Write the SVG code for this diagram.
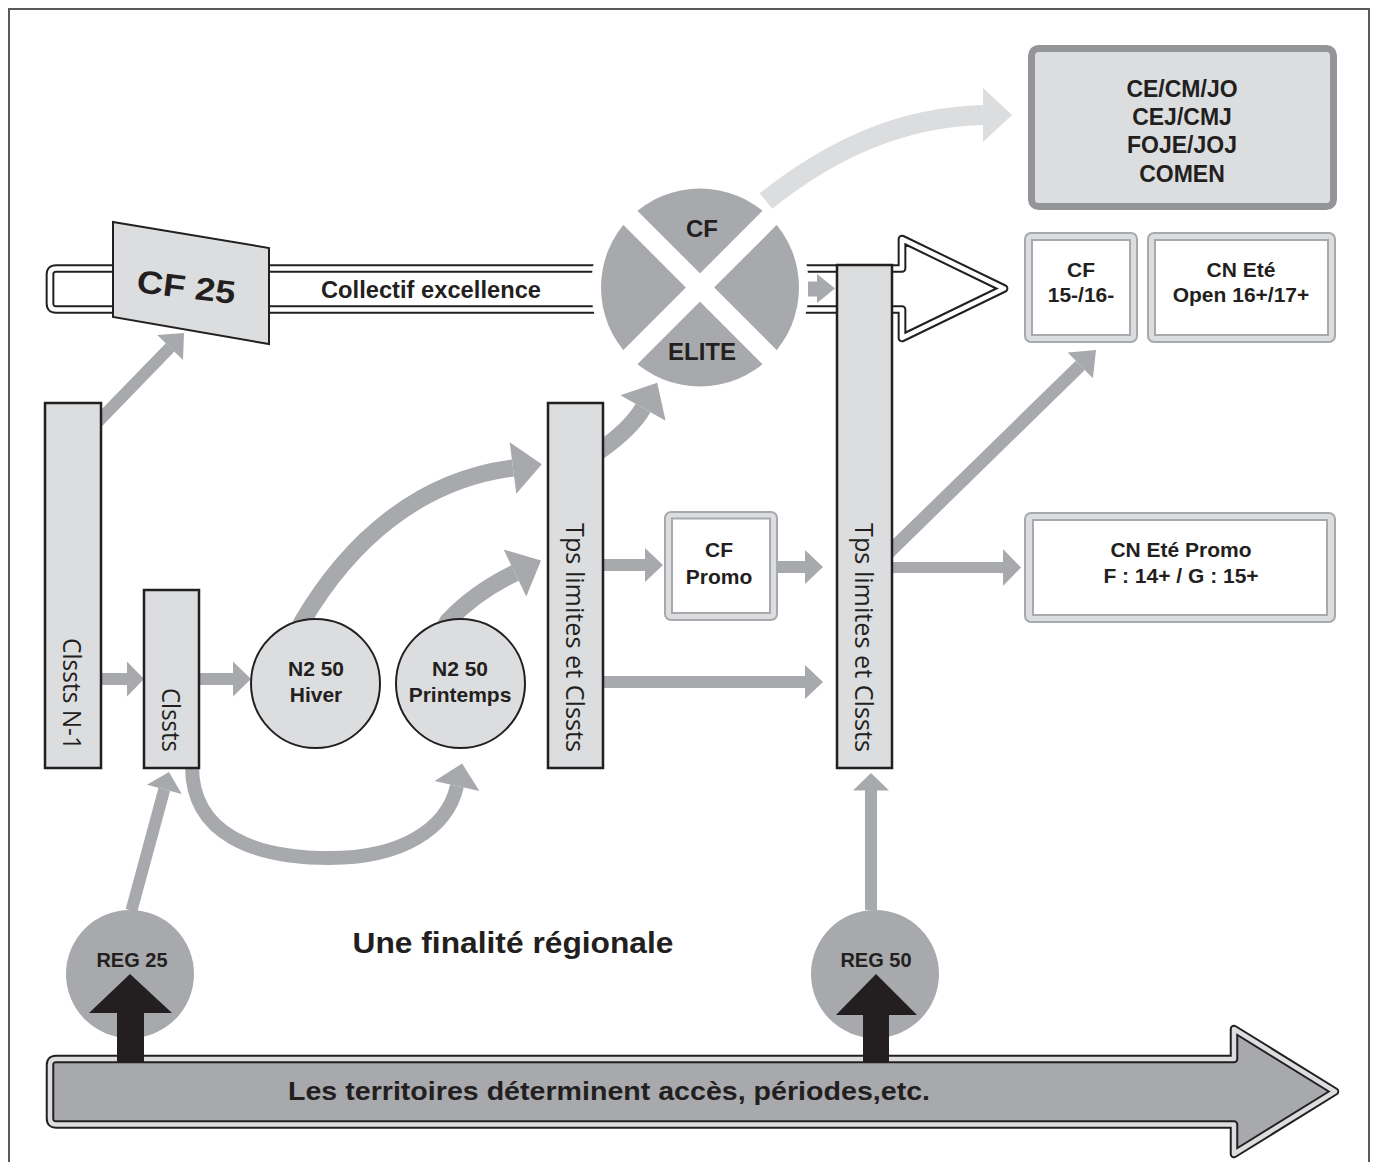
<svg xmlns="http://www.w3.org/2000/svg" width="1375" height="1162" viewBox="0 0 1375 1162">
<style>
.gray{fill:#a7a9ac}
.gs{stroke:#a7a9ac;fill:none}
.blk{fill:#231f20}
.col{fill:#dcdddf;stroke:#231f20;stroke-width:2.5}
.nd{fill:#dcdddf;stroke:#231f20;stroke-width:2}
.ob{fill:#dcdddf;stroke:#a7a9ac;stroke-width:2}
.ib{fill:#fff;stroke:#a7a9ac;stroke-width:2}
.lbl{font-family:"Liberation Sans",Arial,sans-serif;font-weight:bold;fill:#231f20;text-anchor:middle}
.vt{font-family:"Open Sans","Noto Sans",sans-serif;font-size:26px;fill:#231f20;text-anchor:end}
</style>
<rect width="1375" height="1162" fill="#fff"/>
<path d="M9,1162 V9 H1369 V1162" fill="none" stroke="#58595b" stroke-width="2"/>

<g id="territoires">
<path d="M56,1059 H1234 V1029 L1335,1091.5 L1234,1154 V1124.5 H56 Q50,1124.5 50,1118.5 V1065 Q50,1059 56,1059 Z" fill="#a7a9ac" stroke="#231f20" stroke-width="8.5" stroke-linejoin="round"/>
<path d="M56,1059 H1234 V1029 L1335,1091.5 L1234,1154 V1124.5 H56 Q50,1124.5 50,1118.5 V1065 Q50,1059 56,1059 Z" fill="none" stroke="#dcdddf" stroke-width="4.5" stroke-linejoin="round"/>
<text class="lbl" x="609" y="1100" font-size="26" textLength="642" lengthAdjust="spacingAndGlyphs">Les territoires déterminent accès, périodes,etc.</text>
</g>

<g id="reg25">
<circle cx="130" cy="974" r="64" fill="#a7a9ac"/>
<text class="lbl" x="132" y="967" font-size="20">REG 25</text>
</g>
<g id="reg50">
<circle cx="875" cy="974" r="64" fill="#a7a9ac"/>
<text class="lbl" x="876" y="967" font-size="20">REG 50</text>
</g>

<g id="collectif">
<path d="M56,268.5 H902 V239 L1004,288.5 L902,338 V309.5 H56 Q50,309.5 50,303.5 V274.5 Q50,268.5 56,268.5 Z" fill="#fff" stroke="#231f20" stroke-width="8.7" stroke-linejoin="round"/>
<path d="M56,268.5 H902 V239 L1004,288.5 L902,338 V309.5 H56 Q50,309.5 50,303.5 V274.5 Q50,268.5 56,268.5 Z" fill="none" stroke="#fff" stroke-width="4.7" stroke-linejoin="round"/>
<circle cx="700" cy="287.5" r="109" fill="#fff"/>
<text class="lbl" x="431" y="297.5" font-size="23" textLength="220" lengthAdjust="spacingAndGlyphs">Collectif excellence</text>
</g>

<g id="connectors">
<path d="M766,201 C830,150 900,117 983,115" stroke="#dcdddf" stroke-width="20" fill="none"/>
<polygon points="983,88 1012,115 983,142" fill="#dcdddf"/>
<path class="gs" stroke-width="12" d="M88,432 L170.1,347.4"/>
<polygon class="gray" points="184,333 183,359.9 157.2,334.9"/>
<rect class="gray" x="99" y="673" width="29" height="12"/>
<polygon class="gray" points="127,661.5 144,679 127,696.5"/>
<rect class="gray" x="197" y="673" width="37" height="12"/>
<polygon class="gray" points="233,661.5 251,679 233,696.5"/>
<path class="gs" stroke-width="17" d="M298,630 L302,622 C350,540 420,480 513,468"/>
<polygon class="gray" points="541.8,464.3 516.3,493.8 509.7,442.2"/>
<path class="gs" stroke-width="17" d="M444,628 L448,621 C468,600 490,585 515,573"/>
<polygon class="gray" points="541,560.5 526.3,596.4 503.7,549.6"/>
<path class="gs" stroke-width="14" d="M192,760 L192,766 C192,835 255,858 330,858 C400,858 447,830 457,786"/>
<polygon class="gray" points="462.1,763.6 479.4,791.1 434.6,780.9"/>
<path class="gs" stroke-width="12" d="M131.5,910.5 L164.3,789.4"/>
<polygon class="gray" points="169,772 181.7,794.1 146.9,784.7"/>
<path class="gs" stroke-width="17" d="M590,458 L598,452 C618,438 634,424 643,408"/>
<polygon class="gray" points="657.2,382.8 665.6,420.7 620.4,395.3"/>
<rect class="gray" x="600" y="559" width="46" height="12"/>
<polygon class="gray" points="645,548 663,565 645,582"/>
<rect class="gray" x="775" y="561" width="31" height="12"/>
<polygon class="gray" points="805,550 823,567 805,584"/>
<rect class="gray" x="600" y="676" width="206" height="12"/>
<polygon class="gray" points="805,665 823,682 805,699"/>
<rect class="gray" x="865" y="789" width="12" height="121"/>
<polygon class="gray" points="853,790.5 871,773 889,790.5"/>
<path class="gs" stroke-width="13" d="M880,561 L1080.3,365.4"/>
<polygon class="gray" points="1096,350 1092.9,378.3 1067.7,352.5"/>
<rect class="gray" x="890" y="562" width="114" height="11"/>
<polygon class="gray" points="1003,549 1021,567.5 1003,586"/>
<rect class="gray" x="808" y="281.5" width="10" height="15"/>
<polygon class="gray" points="817,274 835,288.5 817,303"/>
<polygon class="blk" points="89,1013 130,974 172,1013 144,1013 144,1063 117,1063 117,1013"/>
<polygon class="blk" points="836,1015 876,974 917,1015 889,1015 889,1063 863,1063 863,1015"/>
</g>

<g id="clssts-n1">
<rect class="col" x="45" y="403" width="56" height="365"/>
<text class="vt" transform="translate(63,750) rotate(90)" textLength="112" lengthAdjust="spacingAndGlyphs">Clssts N-1</text>
</g>
<g id="clssts">
<rect class="col" x="144" y="590" width="55" height="178"/>
<text class="vt" transform="translate(162,752) rotate(90)" textLength="64" lengthAdjust="spacingAndGlyphs">Clssts</text>
</g>
<g id="tps1">
<rect class="col" x="548" y="403" width="55" height="365"/>
<text class="vt" transform="translate(566,752) rotate(90)" textLength="229" lengthAdjust="spacingAndGlyphs">Tps limites et Clssts</text>
</g>
<g id="tps2">
<rect class="col" x="837" y="265" width="55" height="503"/>
<text class="vt" transform="translate(855,752) rotate(90)" textLength="229" lengthAdjust="spacingAndGlyphs">Tps limites et Clssts</text>
</g>

<g id="cf25">
<polygon class="nd" points="113,222 269,248 269,344 113,317"/>
<text class="lbl" transform="translate(185,298) rotate(7)" font-size="32" textLength="99" lengthAdjust="spacingAndGlyphs">CF 25</text>
</g>

<g id="n2-hiver">
<circle class="nd" cx="315.5" cy="683.5" r="64.5"/>
<text class="lbl" x="316" y="676" font-size="21">N2 50</text>
<text class="lbl" x="316" y="702" font-size="21">Hiver</text>
</g>
<g id="n2-printemps">
<circle class="nd" cx="460.5" cy="683.5" r="64.5"/>
<text class="lbl" x="460" y="676" font-size="21">N2 50</text>
<text class="lbl" x="460" y="702" font-size="21">Printemps</text>
</g>

<g id="cf-elite">
<circle cx="700" cy="287.5" r="99" fill="#a7a9ac"/>
<path d="M626,213.5 L774,361.5 M774,213.5 L626,361.5" stroke="#fff" stroke-width="20"/>
<text class="lbl" x="702" y="237" font-size="24">CF</text>
<text class="lbl" x="702" y="360" font-size="24">ELITE</text>
</g>

<g id="cf-promo">
<rect class="ob" x="665" y="512" width="112" height="108" rx="6"/>
<rect class="ib" x="672" y="518.5" width="98" height="94.5"/>
<text class="lbl" x="719" y="557" font-size="21">CF</text>
<text class="lbl" x="719" y="584" font-size="21">Promo</text>
</g>

<g id="international">
<rect x="1031.5" y="48.5" width="302" height="158" rx="7" fill="#dcdddf" stroke="#939598" stroke-width="7"/>
<text class="lbl" x="1182" y="97" font-size="23">CE/CM/JO</text>
<text class="lbl" x="1182" y="125" font-size="23">CEJ/CMJ</text>
<text class="lbl" x="1182" y="153" font-size="23">FOJE/JOJ</text>
<text class="lbl" x="1182" y="182" font-size="23">COMEN</text>
</g>

<g id="cf-15-16">
<rect class="ob" x="1025" y="233" width="112" height="109" rx="6"/>
<rect class="ib" x="1032" y="240" width="98" height="95"/>
<text class="lbl" x="1081" y="277" font-size="21">CF</text>
<text class="lbl" x="1081" y="302" font-size="21">15-/16-</text>
</g>

<g id="cn-ete-open">
<rect class="ob" x="1148" y="233" width="187" height="109" rx="6"/>
<rect class="ib" x="1155" y="240" width="173" height="95"/>
<text class="lbl" x="1241" y="277" font-size="21">CN Eté</text>
<text class="lbl" x="1241" y="302" font-size="21">Open 16+/17+</text>
</g>

<g id="cn-ete-promo">
<rect class="ob" x="1025" y="513" width="310" height="109" rx="6"/>
<rect class="ib" x="1033" y="520" width="294" height="95"/>
<text class="lbl" x="1181" y="557" font-size="21">CN Eté Promo</text>
<text class="lbl" x="1181" y="583" font-size="21">F : 14+ / G : 15+</text>
</g>

<g id="finalite">
<text class="lbl" x="513" y="953" font-size="30" textLength="321" lengthAdjust="spacingAndGlyphs">Une finalité régionale</text>
</g>
</svg>
